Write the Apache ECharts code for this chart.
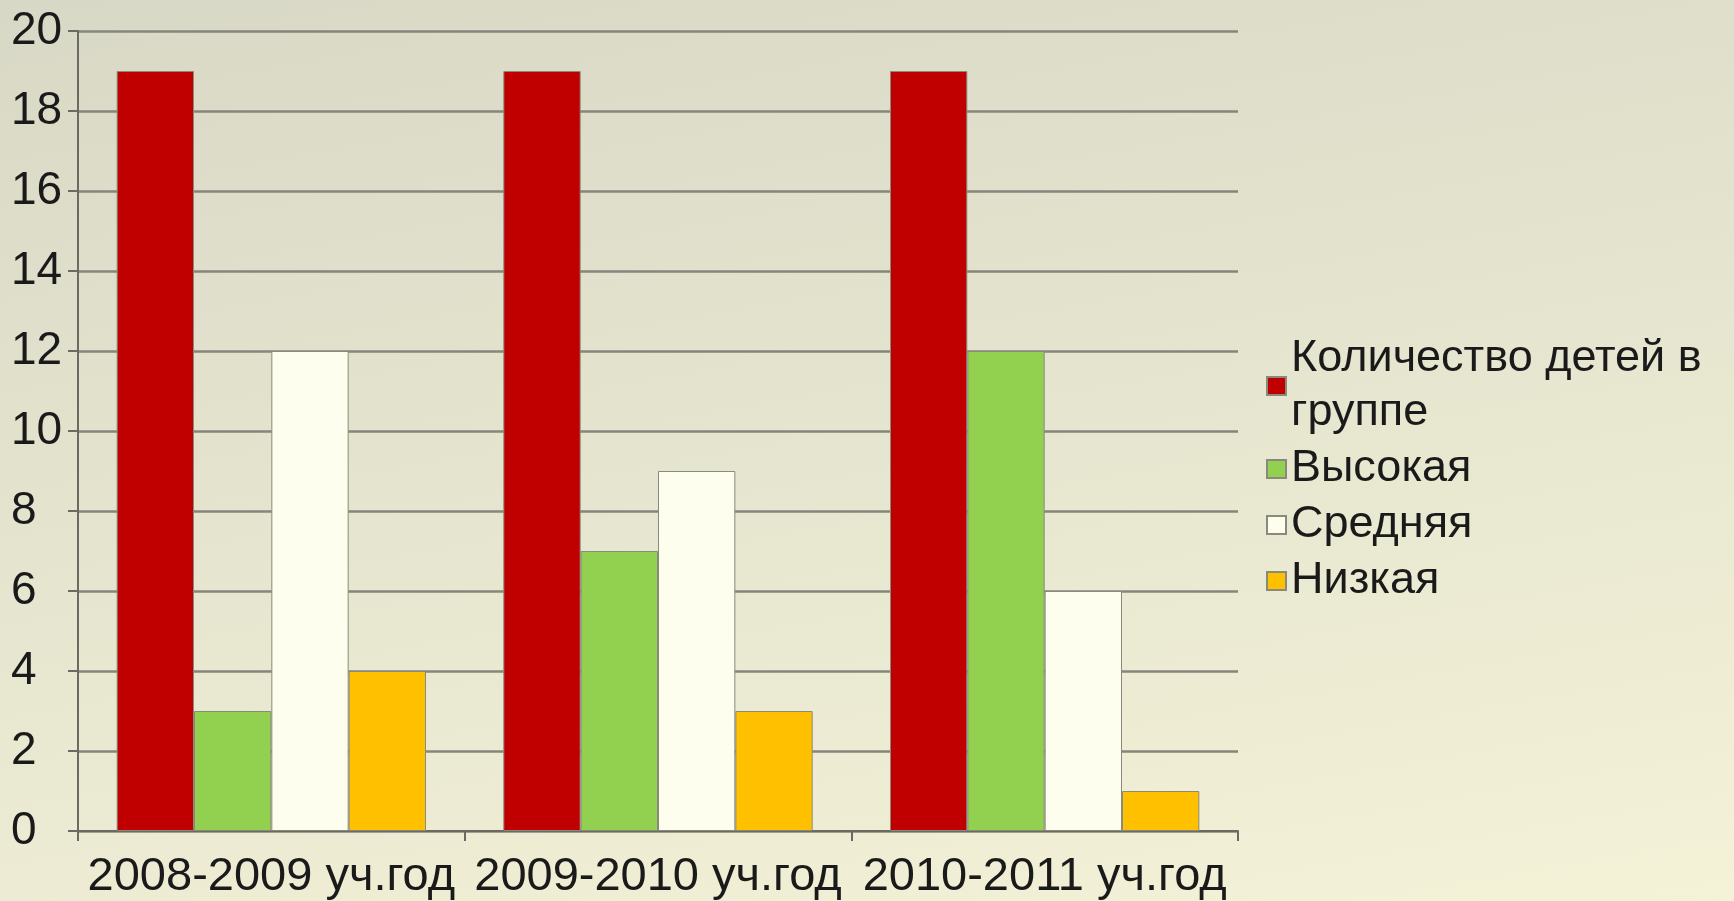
<!DOCTYPE html>
<html>
<head>
<meta charset="utf-8">
<script src="https://cdn.jsdelivr.net/npm/echarts@6/dist/echarts.min.js"></script>
<style>
html,body{margin:0;padding:0;width:1734px;height:901px;overflow:hidden;
background:linear-gradient(170deg,#d8d8c6 0%,#e6e5cf 50%,#f4f2d7 100%);}
#c{width:1734px;height:901px;}
</style>
</head>
<body>
<div id="c"></div>
<script>
const categories = ['2008-2009 уч.год', '2009-2010 уч.год', '2010-2011 уч.год'];
const seriesNames = ['Количество детей в группе', 'Высокая', 'Средняя', 'Низкая'];
const countValues = [19, 19, 19];
const highValues = [3, 7, 12];
const midValues = [12, 9, 6];
const lowValues = [4, 3, 1];
const yTicks = { min: 0, max: 20, interval: 2 };

const colors = ['#c00000', '#92d050', '#fefeee', '#ffc000'];
const valuesList = [countValues, highValues, midValues, lowValues];
const FONT = '"Liberation Sans", Arial, sans-serif';

const chart = echarts.init(document.getElementById('c'), null, {renderer: 'canvas'});
chart.setOption({
  backgroundColor: 'transparent',
  animation: false,
  grid: { left: 78, right: 496, top: 31, bottom: 68, containLabel: false },
  legend: {
    orient: 'vertical',
    left: 1261,
    top: 327,
    itemGap: 2,
    itemWidth: 19,
    itemHeight: 18,
    icon: 'rect',
    data: seriesNames,
    formatter: name => name.replace('детей в ', 'детей в\n'),
    textStyle: {
      fontFamily: FONT, fontSize: 45, color: '#1a1a1a',
      lineHeight: 54
    }
  },
  xAxis: {
    type: 'category',
    data: categories,
    axisLine: { show: true, lineStyle: { color: '#6a6a62', width: 2 } },
    axisTick: { show: true, length: 10, inside: false, lineStyle: { color: '#6a6a62', width: 2 } },
    axisLabel: { fontFamily: FONT, fontSize: 47, color: '#1a1a1a', margin: 23, interval: 0, hideOverlap: false },
    splitLine: { show: false }
  },
  yAxis: {
    type: 'value',
    min: yTicks.min, max: yTicks.max, interval: yTicks.interval,
    axisLine: { show: true, lineStyle: { color: '#6a6a62', width: 2 } },
    axisTick: { show: true, length: 10, lineStyle: { color: '#6a6a62', width: 2 } },
    axisLabel: { fontFamily: FONT, fontSize: 46, color: '#1a1a1a', align: 'left', margin: 67 },
    splitLine: { show: true, lineStyle: { color: '#85857b', width: 2.5 } }
  },
  series: seriesNames.map((n, i) => ({
    name: n,
    type: 'bar',
    data: valuesList[i],
    barGap: '0%',
    barCategoryGap: '20%',
    itemStyle: { color: colors[i], borderColor: '#8a8a7c', borderWidth: 1 }
  }))
});
</script>
</body>
</html>
